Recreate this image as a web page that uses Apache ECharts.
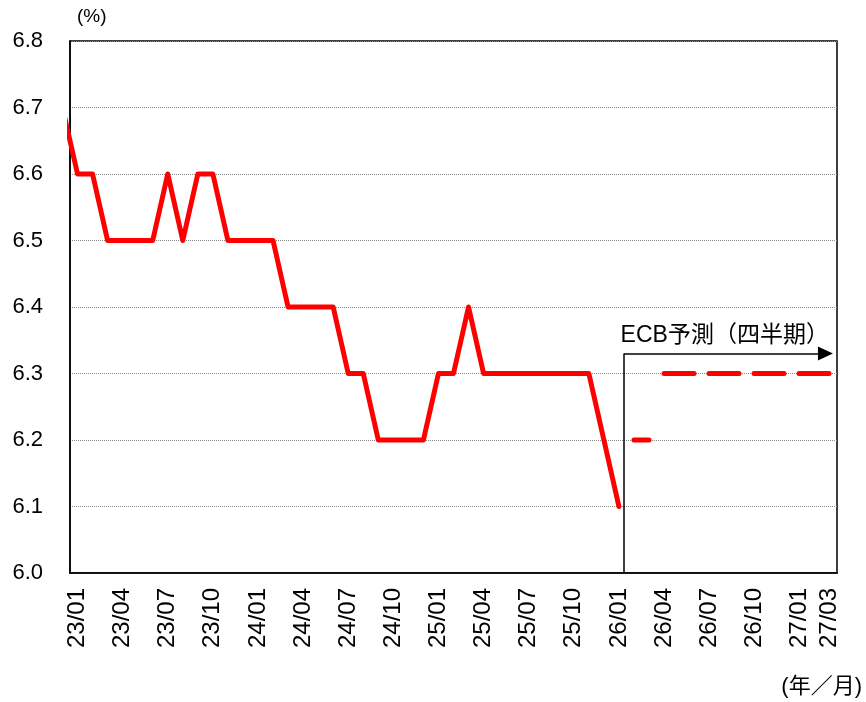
<!DOCTYPE html>
<html>
<head>
<meta charset="utf-8">
<script src="https://cdn.jsdelivr.net/npm/echarts@6/dist/echarts.min.js"></script>
<style>
  html, body { margin: 0; padding: 0; background: #fff; }
  #chart { width: 866px; height: 702px; }
</style>
</head>
<body>
<div id="chart"></div>
<script>
// months on the axis, 23/01 .. 27/03
const months = [
  '23/01', '23/02', '23/03', '23/04', '23/05', '23/06', '23/07', '23/08', '23/09', '23/10', '23/11', '23/12',
  '24/01', '24/02', '24/03', '24/04', '24/05', '24/06', '24/07', '24/08', '24/09', '24/10', '24/11', '24/12',
  '25/01', '25/02', '25/03', '25/04', '25/05', '25/06', '25/07', '25/08', '25/09', '25/10', '25/11', '25/12',
  '26/01', '26/02', '26/03', '26/04', '26/05', '26/06', '26/07', '26/08', '26/09', '26/10', '26/11', '26/12',
  '27/01', '27/02', '27/03'
]
const tickLabels = [
  '23/01', '23/04', '23/07', '23/10', '24/01', '24/04', '24/07', '24/10',
  '25/01', '25/04', '25/07', '25/10', '26/01', '26/04', '26/07', '26/10', '27/01', '27/03'
]

// actual, 22/12 .. 26/01 (22/12 sits just left of the plot and gets clipped)
const actualStart = -1
const actual = [
  6.7,
  6.6, 6.6, 6.5, 6.5, 6.5, 6.5, 6.6, 6.5, 6.6, 6.6, 6.5, 6.5,
  6.5, 6.5, 6.4, 6.4, 6.4, 6.4, 6.3, 6.3, 6.2, 6.2, 6.2, 6.2,
  6.3, 6.3, 6.4, 6.3, 6.3, 6.3, 6.3, 6.3, 6.3, 6.3, 6.3, 6.2,
  6.1
]

// ECB forecast (quarterly)
const forecastA = { start: '26/02', values: [6.2, 6.2] }
const forecastB = { start: '26/04', values: [6.3, 6.3, 6.3, 6.3, 6.3, 6.3, 6.3, 6.3, 6.3, 6.3, 6.3, 6.3] }

// annotation arrow
const arrowX = 36.34
const arrowEndX = 49.73
const arrowY = 6.33

const LATIN = "'Liberation Sans', Arial, 'Noto Sans CJK JP', sans-serif"
const CJK = "'Liberation Sans', 'Noto Sans CJK JP', sans-serif"

const toPairs = (startIdx, values) => values.map((v, i) => [startIdx + i, v])

const chart = echarts.init(document.getElementById('chart'), null, { renderer: 'canvas' })

const lineBase = {
  type: 'line',
  xAxisIndex: 0,
  showSymbol: false,
  symbol: 'none',
  silent: true,
  animation: false
}

chart.setOption({
  backgroundColor: '#fff',
  animation: false,
  grid: {
    left: 70,
    right: 29,
    top: 41,
    bottom: 129,
    show: true,
    borderColor: '#000',
    borderWidth: 1.5
  },
  xAxis: [
    {
      type: 'value',
      min: -0.5,
      max: 50.5,
      show: false
    },
    {
      type: 'category',
      position: 'bottom',
      data: months,
      boundaryGap: true,
      axisLine: { show: true, onZero: false, lineStyle: { color: '#000', width: 1.5 } },
      axisTick: { show: false },
      splitLine: { show: false },
      axisLabel: {
        rotate: 90,
        margin: 15,
        color: '#000',
        fontSize: 24,
        fontFamily: LATIN,
        interval: (idx, label) => tickLabels.includes(label)
      }
    }
  ],
  yAxis: {
    type: 'value',
    min: 6.0,
    max: 6.8,
    interval: 0.1,
    axisLine: { show: true, onZero: false, lineStyle: { color: '#000', width: 1.5 } },
    axisTick: { show: false },
    axisLabel: {
      margin: 27,
      color: '#000',
      fontSize: 22,
      fontFamily: LATIN,
      formatter: (v) => v.toFixed(1)
    },
    splitLine: {
      show: true,
      lineStyle: { color: '#888', width: 1, type: 'dotted' }
    }
  },
  graphic: [
    {
      type: 'text',
      left: 77,
      top: 7,
      style: { text: '(%)', font: "19px " + CJK, fill: '#000' }
    },
    {
      type: 'text',
      right: 4,
      top: 676,
      style: { text: '(年／月)', font: "22px " + CJK, fill: '#000' }
    }
  ],
  series: [
    {
      ...lineBase,
      name: '実績',
      data: toPairs(actualStart, actual),
      lineStyle: { color: '#ff0000', width: 5, cap: 'round', join: 'round' }
    },
    {
      ...lineBase,
      name: 'ECB予測A',
      data: toPairs(months.indexOf(forecastA.start), forecastA.values),
      lineStyle: { color: '#ff0000', width: 5, cap: 'round', type: [30, 15] }
    },
    {
      ...lineBase,
      name: 'ECB予測B',
      data: toPairs(months.indexOf(forecastB.start), forecastB.values),
      lineStyle: { color: '#ff0000', width: 5, cap: 'round', type: [30, 15] },
      markLine: {
        silent: true,
        animation: false,
        symbol: ['none', 'none'],
        lineStyle: { color: '#000', width: 1.5, type: 'solid' },
        label: { show: false },
        emphasis: { disabled: true },
        data: [
          [
            { coord: [arrowX, 6.0] },
            { coord: [arrowX, arrowY] }
          ],
          [
            {
              coord: [arrowX, arrowY],
              label: {
                show: true,
                position: 'insideMiddleTop',
                distance: 6,
                formatter: 'ECB予測（四半期）',
                color: '#000',
                fontSize: 23,
                fontFamily: CJK
              }
            },
            {
              coord: [arrowEndX, arrowY],
              symbol: 'triangle',
              symbolSize: [14, 15]
            }
          ]
        ]
      }
    }
  ]
})
</script>
</body>
</html>
